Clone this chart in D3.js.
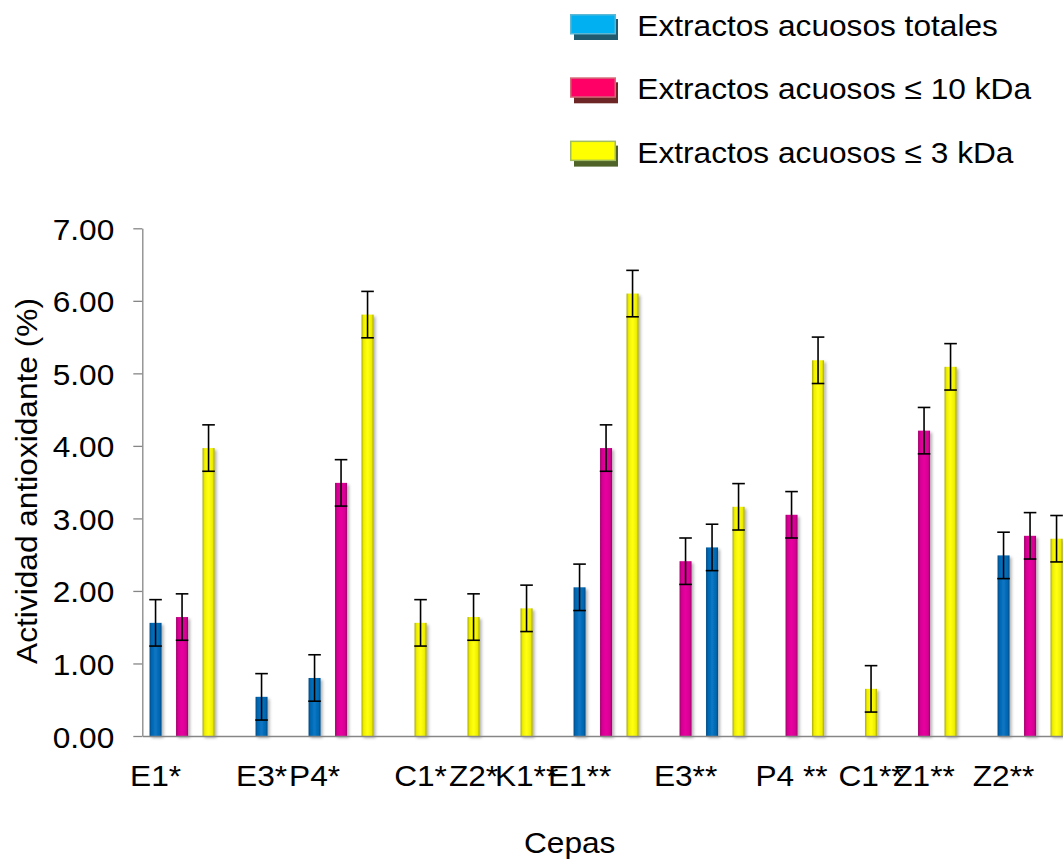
<!DOCTYPE html>
<html>
<head>
<meta charset="utf-8">
<script src="https://cdn.jsdelivr.net/npm/d3@7"></script>
<style>
  body { margin: 0; background: #fff; }
  svg { display: block; }
  text { font-family: "Liberation Sans", Arial, sans-serif; fill: #000; }
</style>
</head>
<body>
<script>
// one label per slot on the category axis (empty slots have no label)
const cepas = ["E1*","","","","E3*","","P4*","","","","C1*","","Z2*","","K1**","","E1**","","","","E3**","","","","P4 **","","","C1**","","Z1**","","","Z2**","","",""];

// actividad antioxidante (%) per slot, null = no bar
const totales = [1.56,null,null,null,0.54,null,0.80,null,null,null, null,null,null,null,null,null,2.05,null,null,null, null,2.60,null,null,null,null,null,null,null,null, null,null,2.49,null,null,null];
const menos10kDa = [null,1.64,null,null,null,null,null,3.49,null,null, null,null,null,null,null,null,null,3.97,null,null, 2.41,null,null,null,3.05,null,null,null,null,4.21, null,null,null,2.76,null,null];
const menos3kDa = [null,null,3.97,null,null,null,null,null,5.81,null, 1.56,null,1.64,null,1.76,null,null,null,6.10,null, null,null,3.16,null,null,5.18,null,0.65,null,null, 5.09,null,null,null,2.72,null];

const errorFijo = 0.32;
const yTicks = [0,1,2,3,4,5,6,7];

const series = [
  {name: "Extractos acuosos totales", values: totales, id: "gBlue",
   bar: ["#004a85","#0068b2","#0a76c4"], sw: "#00b0f0", swStroke: "#5db8d6", shadow: "#215a6e"},
  {name: "Extractos acuosos \u2264 10 kDa", values: menos10kDa, id: "gMag",
   bar: ["#9e0069","#d60093","#e800a0"], sw: "#ff0066", swStroke: "#d46a78", shadow: "#6e2526"},
  {name: "Extractos acuosos \u2264 3 kDa", values: menos3kDa, id: "gYel",
   bar: ["#a8a800","#f0f000","#ffff10"], sw: "#ffff00", swStroke: "#a2bd5e", shadow: "#4f6228"}
];

const W = 1063, H = 863;
const SX = 1.055; // text in the original is slightly wide
const x0 = 142.3, step = 26.5;

const svg = d3.select("body").append("svg")
  .attr("width", W).attr("height", H);

const defs = svg.append("defs");
series.forEach(s => {
  const g = defs.append("linearGradient").attr("id", s.id)
    .attr("x1", 0).attr("x2", 1).attr("y1", 0).attr("y2", 0);
  [[0, s.bar[0]], [0.18, s.bar[1]], [0.5, s.bar[2]], [0.82, s.bar[1]], [1, s.bar[0]]]
    .forEach(st => g.append("stop").attr("offset", st[0]).attr("stop-color", st[1]));
});
defs.append("filter").attr("id", "sombra")
  .attr("x", "-50%").attr("y", "-10%").attr("width", "200%").attr("height", "130%")
  .append("feDropShadow")
  .attr("dx", 2).attr("dy", 2).attr("stdDeviation", 1.6)
  .attr("flood-color", "#000").attr("flood-opacity", 0.3);

// scales
const x = d3.scaleBand()
  .domain(d3.range(cepas.length))
  .range([x0, x0 + step * cepas.length])
  .paddingInner(1 - 12 / step)
  .paddingOuter((1 - 12 / step) / 2);

const y = d3.scaleLinear().domain([0, 7]).range([736, 228.3]);

function stretch(sel) {
  sel.each(function() {
    const t = d3.select(this);
    const tx = +t.attr("x") || 0, ty = +t.attr("y") || 0;
    t.attr("x", 0).attr("y", 0).attr("dy", null)
     .attr("transform", `translate(${tx},${ty}) scale(${SX},1)`);
  });
}

// bars
series.forEach(s => {
  const data = s.values.map((v, i) => ({i, v})).filter(d => d.v != null);
  svg.append("g").selectAll("rect")
    .data(data).enter().append("rect")
    .attr("x", d => x(d.i))
    .attr("y", d => y(d.v))
    .attr("width", x.bandwidth())
    .attr("height", d => y(0) - y(d.v))
    .attr("fill", `url(#${s.id})`)
    .attr("filter", "url(#sombra)");
});

// axes
const yAxis = svg.append("g")
  .attr("transform", `translate(${x0},0)`)
  .call(d3.axisLeft(y).tickValues(yTicks).tickFormat(d3.format(".2f"))
    .tickSize(9).tickSizeOuter(0).tickPadding(19));
yAxis.selectAll("path, line").attr("stroke", "#868686").attr("stroke-width", 1.3);
yAxis.selectAll("text").attr("font-size", 30).attr("font-family", null)
  .attr("y", 11).attr("dy", null);
yAxis.selectAll(".tick text").each(function() {
  d3.select(this).attr("transform", `translate(-28,11) scale(${SX},1)`)
    .attr("x", 0).attr("y", 0);
});

const xAxis = svg.append("g")
  .attr("transform", `translate(0,${y(0)})`)
  .call(d3.axisBottom(x)
    .tickValues(d3.range(cepas.length).filter(i => cepas[i] !== ""))
    .tickFormat(i => cepas[i]).tickSize(0).tickSizeOuter(0).tickPadding(0));
xAxis.select(".domain").attr("stroke", "#868686").attr("stroke-width", 1.3);
xAxis.selectAll("text").attr("font-size", 30).attr("font-family", null)
  .attr("dy", null).each(function() {
    d3.select(this).attr("transform", `translate(0,49.7) scale(${SX},1)`).attr("y", 0);
  });

// error bars
series.forEach(s => {
  const data = s.values.map((v, i) => ({i, v})).filter(d => d.v != null);
  const eb = svg.append("g").attr("stroke", "#000").attr("stroke-width", 1.6)
    .selectAll("g").data(data).enter().append("g");
  const cx = d => x(d.i) + x.bandwidth() / 2;
  eb.append("line").attr("x1", cx).attr("x2", cx)
    .attr("y1", d => y(d.v + errorFijo)).attr("y2", d => y(d.v - errorFijo));
  [1, -1].forEach(k => eb.append("line")
    .attr("x1", d => cx(d) - 6.3).attr("x2", d => cx(d) + 6.3)
    .attr("y1", d => y(d.v + k * errorFijo)).attr("y2", d => y(d.v + k * errorFijo)));
});

// axis titles
svg.append("text").attr("text-anchor", "middle").attr("font-size", 30)
  .attr("transform", `translate(569.7,853) scale(${SX},1)`).text("Cepas");
svg.append("text").attr("text-anchor", "middle").attr("font-size", 30)
  .attr("transform", `translate(36.5,481) rotate(-90) scale(${SX},1)`)
  .text("Actividad antioxidante (%)");

// legend
const legend = svg.append("g").selectAll("g")
  .data(series).enter().append("g")
  .attr("transform", (d, i) => `translate(570,${14 + i * 63.3})`);
legend.append("rect").attr("x", 4).attr("y", 5).attr("width", 44).attr("height", 21)
  .attr("fill", d => d.shadow);
legend.append("rect").attr("x", 0.75).attr("y", 0.75).attr("width", 44.5).attr("height", 19)
  .attr("fill", d => d.sw).attr("stroke", d => d.swStroke).attr("stroke-width", 1.5);
legend.append("text").attr("font-size", 30)
  .attr("transform", `translate(67.3,22) scale(${SX},1)`)
  .text(d => d.name);
</script>
</body>
</html>
